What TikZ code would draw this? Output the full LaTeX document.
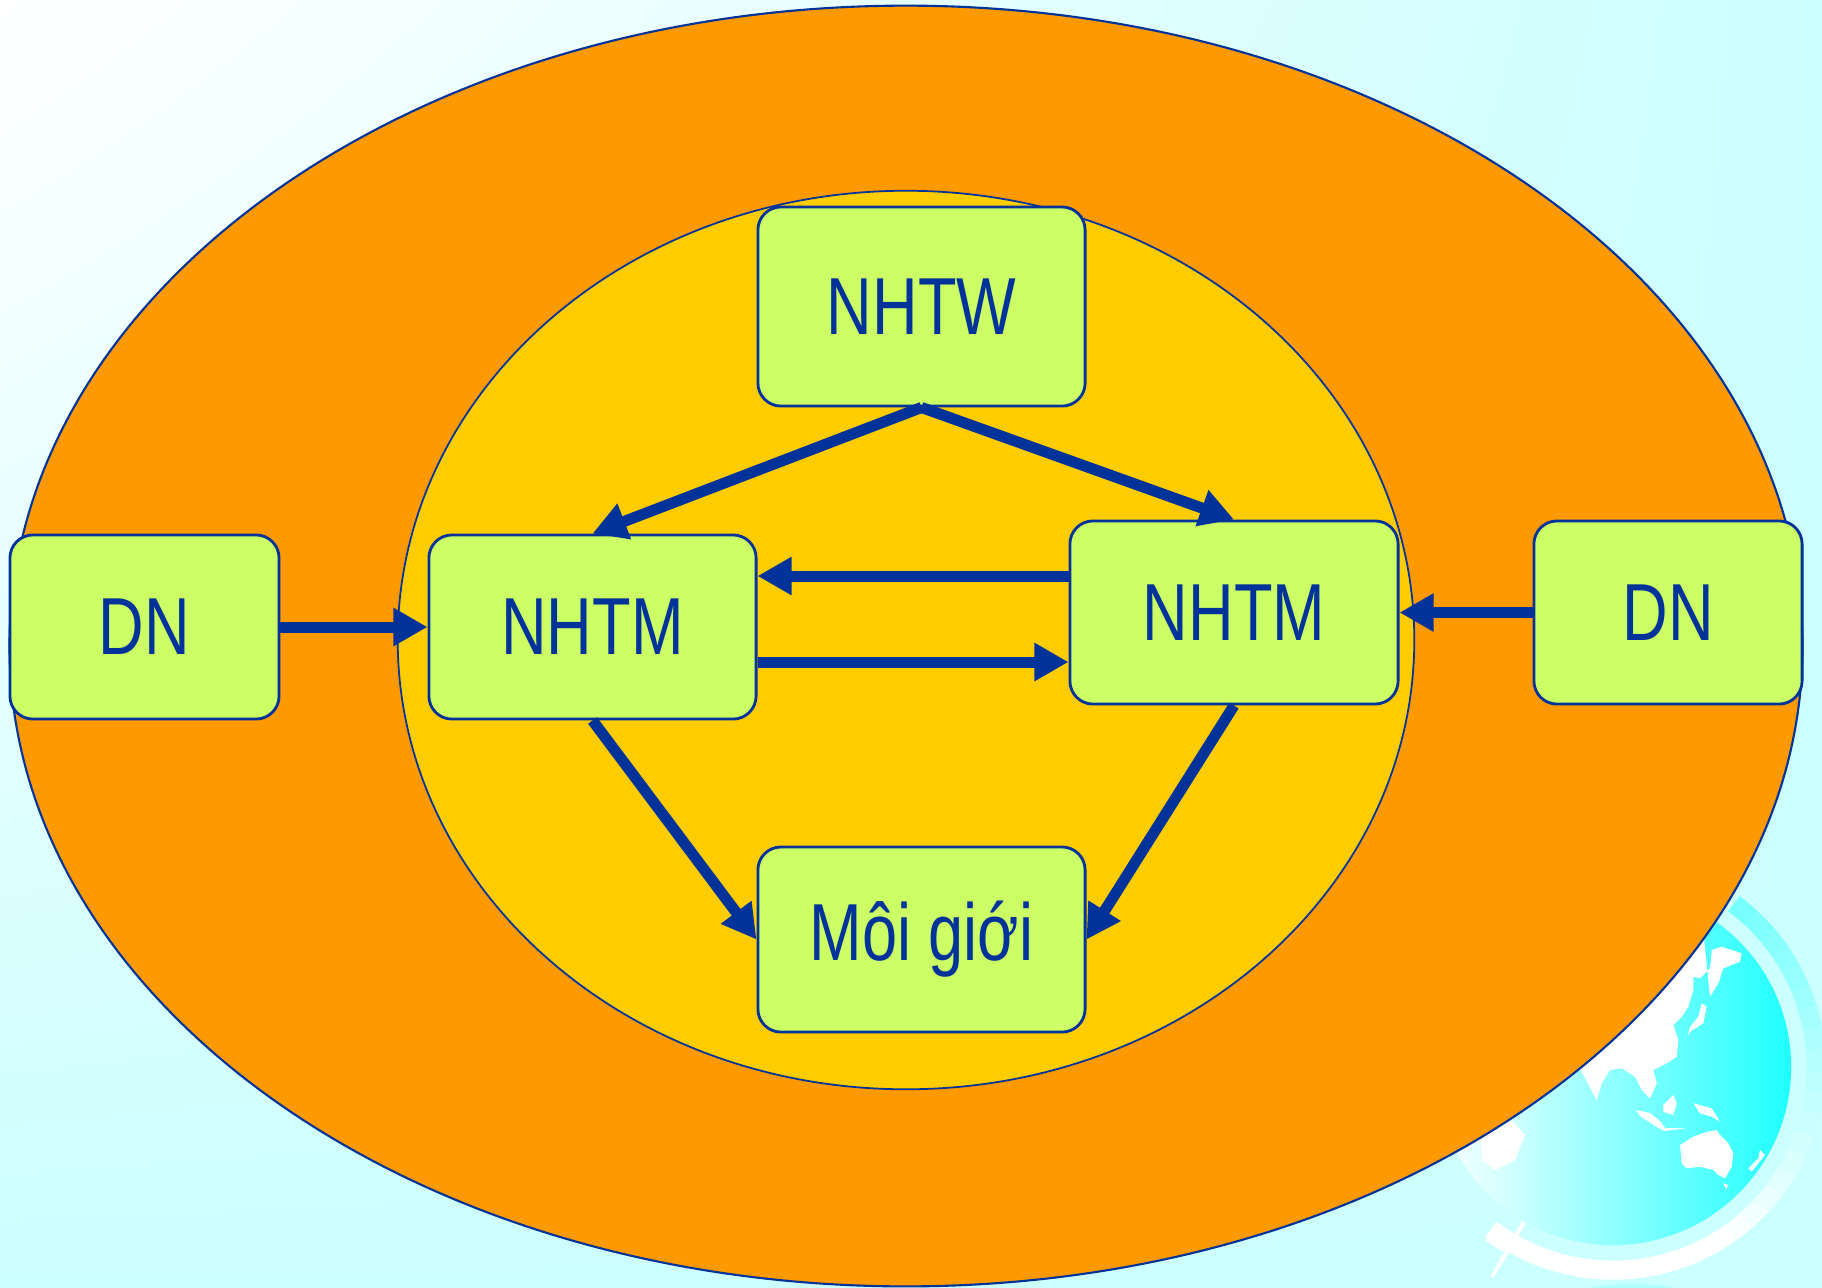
\documentclass[tikz,border=0pt]{standalone}
\usepackage{fontspec}
\setmainfont[FakeStretch=0.78]{Liberation Sans}
\usepackage{xcolor}
\usetikzlibrary{arrows.meta,shadings}

\definecolor{navy}{HTML}{003399}
\definecolor{lime}{HTML}{CCFF66}
\definecolor{outerorange}{HTML}{FF9900}
\definecolor{inneryellow}{HTML}{FFCC00}
\definecolor{skycyan}{HTML}{CCFFFF}
\definecolor{globecyan}{HTML}{1EFFFF}

\begin{document}
\begin{tikzpicture}[x=0.01cm,y=-0.01cm,
    bank/.style={rectangle, rounded corners=0.23cm, draw=navy, line width=0.8pt,
      fill=lime, text=navy, font=\fontsize{23}{28}\selectfont,
      minimum width=3.27cm, minimum height=1.84cm},
    flow/.style={draw=navy, line width=0.11cm, -{Triangle[length=0.34cm,width=0.36cm]}}]
  \useasboundingbox (0,0) rectangle (1822,1287);
  \shade[upper left=white, upper right=skycyan, lower left=skycyan, lower right=skycyan]
    (0,0) rectangle (1822,1287);

  % globe in the corner
  \begin{scope}
    \clip (1613,1067) circle [radius=1.78cm];
    \shade[left color=white, right color=globecyan] (1435,889) rectangle (1791,1245);
    \fill[white] (1581.7,1071.7) -- (1596.7,1100) -- (1601.7,1083.3) -- (1610,1070)
      -- (1621.7,1068.3) -- (1635,1076.7) -- (1641.7,1090) -- (1650,1098.3)
      -- (1656.7,1083.3) -- (1653.3,1070) -- (1666.7,1063.3) -- (1676.7,1056.7)
      -- (1678.3,1040) -- (1673.3,1025) -- (1681.7,1016.7) -- (1688.3,1006.7)
      -- (1693.3,990) -- (1693.3,976.7) -- (1700,978.3) -- (1710,968.3)
      -- (1711.7,950) -- (1721.7,946.7) -- (1741.7,953.3) -- (1740,961.7)
      -- (1723.3,968.3) -- (1718.3,983.3) -- (1710,996.7)
      -- (1700,900) -- (1600,980) -- (1560,1040) -- cycle;
    \fill[white] (1701.7,1003.3) -- (1706.7,1006.7) -- (1703.3,1023.3) -- (1690,1031.7)
      -- (1687.3,1036.7) -- (1690,1026.7) -- (1698.3,1016.7) -- cycle;
    \fill[white] (1680,1145) -- (1693.3,1136.7) -- (1706.7,1131.7) -- (1716.7,1130)
      -- (1720,1135) -- (1728.3,1143.3) -- (1733.3,1153.3) -- (1731.7,1166.7)
      -- (1725,1178.3) -- (1718.3,1175) -- (1713.3,1170) -- (1700,1166.7)
      -- (1686.7,1168.3) -- (1681.7,1163.3) -- cycle;
    \fill[white] (1723.3,1183.3) -- (1728.3,1185) -- (1726,1190) -- cycle;
    \fill[white] (1636,1110) -- (1650,1113) -- (1660,1121) -- (1665,1128) -- (1687,1128)
      -- (1664,1131) -- (1655,1126) -- (1640,1116) -- cycle;
    \fill[white] (1693.3,1103.3) -- (1711.7,1108.3) -- (1720,1121.7) -- (1711.7,1116.7)
      -- (1700,1113.3) -- cycle;
    \fill[white] (1663.3,1105) -- (1673.3,1095) -- (1676.7,1103.3) -- (1673.3,1115)
      -- (1663.3,1111.7) -- cycle;
    \fill[white] (1748.3,1168.3) -- (1758.3,1158.3) -- (1760,1150) -- (1765,1155)
      -- (1751.7,1171.7) -- cycle;
    \fill[white] (1480,1120) -- (1510,1118) -- (1525,1135) -- (1515,1160)
      -- (1495,1170) -- (1482,1160) -- cycle;
  \end{scope}
  % stand ring, white at the bottom turning cyan at the top
  \begin{scope}[shift={(1613,1067)}, x=0.01cm, y=0.01cm]
    \foreach \a in {-127,-121,...,49} {
      \pgfmathsetmacro\tint{max(0,min(65,(\a+60)*0.56))}
      \draw[line width=0.19cm, color=globecyan!\tint!white]
        (\a:2.03cm) arc [start angle=\a, end angle=\a+6.5, radius=2.03cm];
    }
  \end{scope}
  \fill[white] (1485,1240) -- (1497,1223) -- (1515,1235) -- (1503,1252) -- cycle;
  \draw[white, line width=0.04cm] (1492,1277) -- (1524,1222);
  \fill[globecyan!35!white] (1632,1292) ellipse [x radius=0.5cm, y radius=0.08cm];

  % market rings
  \filldraw[fill=outerorange, draw=navy, line width=0.6pt]
    (906,646) ellipse [x radius=8.96cm, y radius=6.40cm];
  \filldraw[fill=inneryellow, draw=navy, line width=0.5pt]
    (906,640) ellipse [x radius=5.08cm, y radius=4.49cm];

  \node (nhtw) [bank, minimum height=1.99cm] at (921.5,306.5) {NHTW};
  \node (nhtmL) [bank] at (592.5,627) {NHTM};
  \node (nhtmR) [bank, minimum width=3.28cm, minimum height=1.83cm] at (1234,612.5) {NHTM};
  \node (dnL) [bank, minimum width=2.69cm] at (144.5,627) {DN};
  \node (dnR) [bank, minimum width=2.68cm, minimum height=1.83cm] at (1668,612.5) {DN};
  \node (broker) [bank, minimum height=1.85cm] at (921.5,939.5) {Môi giới};

  \draw[flow] (nhtw.south) -- (nhtmL.north);
  \draw[flow] (nhtw.south) -- (nhtmR.north);
  \draw[flow] (nhtmR.west |- 0,576) -- (nhtmL.east |- 0,576);
  \draw[flow] (nhtmL.east |- 0,662) -- (nhtmR.west |- 0,662);
  \draw[flow] (dnL) -- (nhtmL);
  \draw[flow] (dnR) -- (nhtmR);
  \draw[flow] (nhtmL.south) -- (broker.west);
  \draw[flow] (nhtmR.south) -- (broker.east);
\end{tikzpicture}
\end{document}
